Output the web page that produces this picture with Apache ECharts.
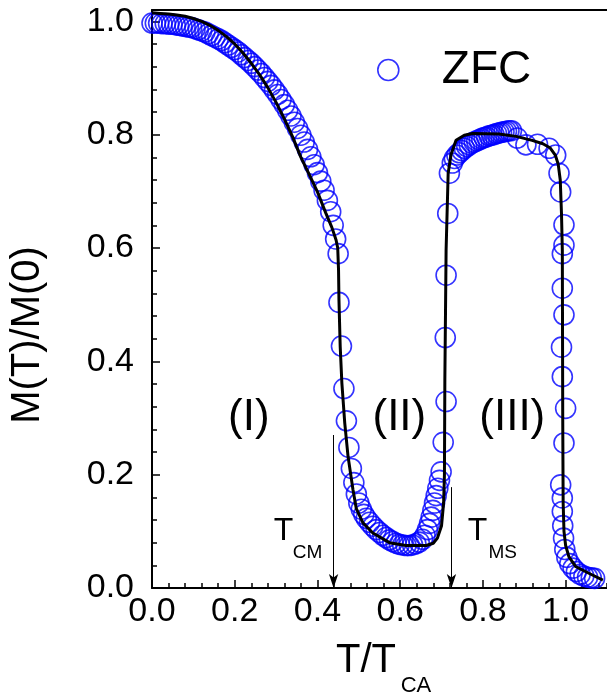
<!DOCTYPE html>
<html>
<head>
<meta charset="utf-8">
<script src="https://cdn.jsdelivr.net/npm/echarts@6/dist/echarts.min.js"></script>
<style>html,body{margin:0;padding:0;background:#fff}#c{width:607px;height:697px}</style>
</head>
<body>
<div id="c"></div>
<script>
// ZFC data points [T/T_CA, M(T)/M(0)]
const zfcRegionI = [[0.000,0.997],[0.008,0.997],[0.016,0.997],[0.024,0.996],[0.032,0.996],[0.040,0.995],[0.048,0.995],[0.056,0.994],[0.064,0.993],[0.072,0.992],[0.080,0.991],[0.088,0.990],[0.096,0.989],[0.104,0.987],[0.112,0.985],[0.120,0.983],[0.128,0.981],[0.136,0.978],[0.144,0.975],[0.152,0.972],[0.160,0.969],[0.168,0.966],[0.176,0.962],[0.184,0.958],[0.192,0.954],[0.200,0.950],[0.208,0.946],[0.216,0.941],[0.224,0.936],[0.232,0.931],[0.240,0.926],[0.248,0.920],[0.256,0.914],[0.264,0.908],[0.272,0.901],[0.280,0.894],[0.288,0.887],[0.296,0.879],[0.304,0.871],[0.312,0.862],[0.320,0.853],[0.328,0.843],[0.336,0.833],[0.344,0.822],[0.352,0.811],[0.360,0.799],[0.368,0.787],[0.376,0.774],[0.384,0.761],[0.392,0.747],[0.400,0.733],[0.408,0.718],[0.416,0.702],[0.424,0.684],[0.432,0.664],[0.438,0.640],[0.444,0.616],[0.450,0.590]];
const zfcDrop = [[0.452,0.504],[0.458,0.427],[0.464,0.352],[0.470,0.295],[0.476,0.248],[0.482,0.211],[0.488,0.186],[0.494,0.166],[0.500,0.150]];
const zfcRegionII = [[0.506,0.139],[0.512,0.130],[0.518,0.123],[0.526,0.116],[0.534,0.109],[0.542,0.103],[0.550,0.098],[0.558,0.093],[0.566,0.089],[0.574,0.085],[0.582,0.082],[0.590,0.079],[0.598,0.077],[0.606,0.076],[0.614,0.075],[0.622,0.075],[0.630,0.076],[0.638,0.078],[0.646,0.081],[0.654,0.086],[0.660,0.093],[0.666,0.103],[0.671,0.114],[0.675,0.125],[0.679,0.137],[0.683,0.150],[0.687,0.163],[0.691,0.176]];
const zfcRise = [[0.695,0.190],[0.699,0.205],[0.704,0.257],[0.711,0.329],[0.709,0.442],[0.711,0.552],[0.715,0.661],[0.719,0.732]];
const zfcRegionIII = [[0.726,0.750],[0.731,0.758],[0.737,0.764],[0.743,0.768],[0.749,0.772],[0.755,0.776],[0.761,0.779],[0.767,0.782],[0.773,0.785],[0.779,0.787],[0.785,0.789],[0.791,0.791],[0.797,0.793],[0.803,0.795],[0.809,0.796],[0.815,0.798],[0.821,0.799],[0.827,0.800],[0.833,0.802],[0.839,0.803],[0.845,0.804],[0.851,0.805],[0.857,0.806],[0.863,0.807],[0.869,0.807],[0.883,0.794],[0.904,0.782],[0.932,0.783],[0.960,0.776],[0.976,0.764]];
const zfcFall = [[0.984,0.732],[0.988,0.699],[0.996,0.641],[0.996,0.605],[0.992,0.590],[0.992,0.529],[0.996,0.482],[0.990,0.425],[0.992,0.373],[1.000,0.317],[0.996,0.256],[0.988,0.182],[0.992,0.159]];
const zfcTail = [[0.992,0.135],[0.993,0.110],[0.995,0.088],[0.998,0.068],[1.003,0.054],[1.010,0.043],[1.018,0.035],[1.026,0.029],[1.035,0.024],[1.044,0.021],[1.053,0.019],[1.062,0.018],[1.070,0.017]];

// Fit curve [T/T_CA, M(T)/M(0)]
const fitCurve = [[0.000,1.015],[0.020,1.014],[0.040,1.013],[0.060,1.011],[0.080,1.009],[0.100,1.005],[0.120,1.000],[0.140,0.993],[0.160,0.984],[0.180,0.973],[0.200,0.960],[0.220,0.944],[0.240,0.926],[0.260,0.906],[0.280,0.883],[0.300,0.857],[0.320,0.828],[0.340,0.796],[0.360,0.760],[0.380,0.730],[0.400,0.699],[0.420,0.662],[0.435,0.636],[0.445,0.614],[0.449,0.600],[0.451,0.560],[0.452,0.508],[0.455,0.426],[0.459,0.362],[0.466,0.291],[0.474,0.232],[0.486,0.173],[0.494,0.140],[0.510,0.115],[0.534,0.097],[0.574,0.080],[0.614,0.075],[0.663,0.075],[0.680,0.079],[0.690,0.088],[0.700,0.110],[0.705,0.150],[0.707,0.200],[0.708,0.367],[0.711,0.596],[0.716,0.732],[0.723,0.765],[0.735,0.790],[0.755,0.799],[0.775,0.802],[0.839,0.801],[0.880,0.797],[0.919,0.790],[0.945,0.784],[0.962,0.777],[0.975,0.764],[0.982,0.748],[0.987,0.720],[0.990,0.660],[0.992,0.596],[0.993,0.300],[0.994,0.150],[0.996,0.100],[1.000,0.075],[1.008,0.055],[1.024,0.038],[1.056,0.026],[1.090,0.014]];

// Arrows: [T position, start M]
const arrowT = [0.439, 0.724];
const arrowStart = [0.27, 0.178];

const regionLabels = ['(I)', '(II)', '(III)'];
const regionT = [0.234, 0.598, 0.871];
const regionM = 0.30;

const xTicks = [0.0, 0.2, 0.4, 0.6, 0.8, 1.0];
const yTicks = [0.0, 0.2, 0.4, 0.6, 0.8, 1.0];

const zfcData = [].concat(zfcRegionI, zfcDrop, zfcRegionII, zfcRise, zfcRegionIII, zfcFall, zfcTail);

const FONT = '"Liberation Sans", Arial, sans-serif';
const BLUE = '#0000ff';
const chart = echarts.init(document.getElementById('c'));

const grid = {left: 152, top: 10, width: 456, height: 578};
const tickStyle = {color: '#000', width: 1.5};

chart.setOption({
  animation: false,
  backgroundColor: '#fff',
  grid: grid,
  legend: {
    data: [{name: 'ZFC', icon: 'circle'}],
    left: 377, top: 47, padding: 0,
    itemWidth: 21, itemHeight: 21,
    itemStyle: {color: 'rgba(0,0,0,0)', borderColor: BLUE, borderWidth: 1.6},
    textStyle: {fontSize: 46, fontFamily: FONT, color: '#000', padding: [0, 0, 0, 38]}
  },
  xAxis: [
    {type: 'value', min: 0, max: 1.1, interval: 0.2, position: 'bottom',
     axisLine: {show: true, onZero: false, lineStyle: {color: '#000', width: 2}},
     axisTick: {show: true, inside: true, length: 8, lineStyle: tickStyle},
     axisLabel: {show: true, margin: 7, fontSize: 34, fontFamily: FONT, color: '#000',
       showMaxLabel: false, formatter: v => xTicks.indexOf(Math.round(v*10)/10) >= 0 ? v.toFixed(1) : ''},
     splitLine: {show: false}},
    {type: 'value', min: 0, max: 1.1, interval: 0.04, position: 'bottom',
     axisLine: {show: false}, axisLabel: {show: false}, splitLine: {show: false},
     axisTick: {show: true, inside: true, length: 5, lineStyle: tickStyle}},
    {type: 'value', min: 0, max: 1.1, position: 'top',
     axisLine: {show: true, onZero: false, lineStyle: {color: '#000', width: 2}},
     axisTick: {show: false}, axisLabel: {show: false}, splitLine: {show: false}}
  ],
  yAxis: [
    {type: 'value', min: 0, max: 1.02, interval: 0.2, position: 'left',
     axisLine: {show: true, onZero: false, lineStyle: {color: '#000', width: 2}},
     axisTick: {show: true, inside: true, length: 8, lineStyle: tickStyle},
     axisLabel: {show: true, margin: 18, fontSize: 34, fontFamily: FONT, color: '#000',
       showMaxLabel: false, formatter: v => yTicks.indexOf(Math.round(v*10)/10) >= 0 ? v.toFixed(1) : ''},
     splitLine: {show: false}},
    {type: 'value', min: 0, max: 1.02, interval: 0.04, position: 'left',
     axisLine: {show: false}, axisLabel: {show: false}, splitLine: {show: false},
     axisTick: {show: true, inside: true, length: 5, lineStyle: tickStyle}}
  ],
  series: [
    {name: 'ZFC', type: 'scatter', data: zfcData, symbol: 'circle', symbolSize: 20,
     itemStyle: {color: 'rgba(0,0,0,0)', borderColor: BLUE, borderWidth: 1.6}, z: 2},
    {name: 'fit', type: 'line', data: fitCurve, showSymbol: false, symbol: 'none',
     lineStyle: {color: '#000', width: 3}, z: 3,
     markLine: {silent: true, symbol: ['none', 'arrow'], symbolSize: [7, 14],
       label: {show: false},
       lineStyle: {color: '#000', width: 1, type: 'solid'},
       data: arrowT.map((t, i) => [{coord: [t, arrowStart[i]]}, {coord: [t, 0]}])}}
  ]
});

function px(t, m) { return chart.convertToPixel({xAxisIndex: 0, yAxisIndex: 0}, [t, m]); }
const gText = [];
regionLabels.forEach((s, i) => {
  const p = px(regionT[i], regionM);
  gText.push({type: 'text', x: p[0], y: p[1], style: {text: s, fontSize: 44, fontFamily: FONT, fill: '#000', align: 'center', verticalAlign: 'middle'}});
});
// T_CM and T_MS annotations
const annT = [[0.318, 0.100, 'T', 32], [0.376, 0.063, 'CM', 19], [0.787, 0.100, 'T', 32], [0.848, 0.063, 'MS', 19]];
annT.forEach(a => {
  const p = px(a[0], a[1]);
  gText.push({type: 'text', x: p[0], y: p[1], style: {text: a[2], fontSize: a[3], fontFamily: FONT, fill: '#000', align: 'center', verticalAlign: 'middle'}});
});
// y-axis title
gText.push({type: 'text', x: 28, y: 335, rotation: Math.PI / 2, style: {text: 'M(T)/M(0)', fontSize: 40, fontFamily: FONT, fill: '#000', align: 'center', verticalAlign: 'middle'}});
// x-axis title T/T_CA
gText.push({type: 'text', x: 366, y: 661, style: {text: 'T/T', fontSize: 40, fontFamily: FONT, fill: '#000', align: 'center', verticalAlign: 'middle'}});
gText.push({type: 'text', x: 416, y: 686, style: {text: 'CA', fontSize: 22, fontFamily: FONT, fill: '#000', align: 'center', verticalAlign: 'middle'}});
chart.setOption({graphic: gText});
</script>
</body>
</html>
